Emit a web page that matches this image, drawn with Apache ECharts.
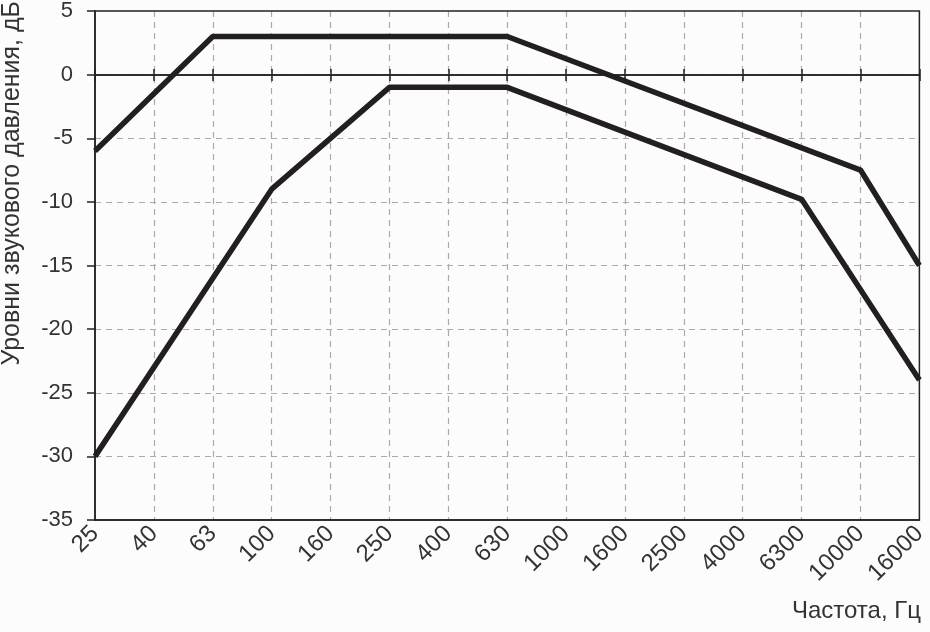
<!DOCTYPE html>
<html><head><meta charset="utf-8">
<script src="https://cdn.jsdelivr.net/npm/echarts@6/dist/echarts.min.js"></script>
<style>html,body{margin:0;padding:0;background:#fcfcfc}#c{width:930px;height:632px}</style>
</head><body><div id="c"></div>
<script>
const categories = ['25','40','63','100','160','250','400','630','1000','1600','2500','4000','6300','10000','16000'];
const upperX = ['25','63','630','10000','16000'];
const upperY = [-6, 3, 3, -7.5, -15];
const lowerX = ['25','100','250','630','6300','16000'];
const lowerY = [-30, -9, -1, -1, -9.8, -24];
const yMin = -35, yMax = 5, yStep = 5;
const yName = 'Уровни звукового давления, дБ';
const xName = 'Частота, Гц';

const font = 'Liberation Sans, Arial, sans-serif';
const chart = echarts.init(document.getElementById('c'));
const zip = (xs, ys) => xs.map((x, i) => [x, ys[i]]);
const zeroAxis = (tickInside) => ({
  type: 'category', data: categories, boundaryGap: false, position: 'top', offset: -64,
  axisLine: { show: true, onZero: false, lineStyle: { color: '#222', width: 1.5 } },
  axisTick: { show: true, inside: tickInside, length: 6, interval: 0, lineStyle: { color: '#222', width: 1.5 } },
  axisLabel: { show: false }, splitLine: { show: false }
});
chart.setOption({
  backgroundColor: '#fcfcfc',
  animation: false,
  grid: { left: 95, right: 9, top: 8, bottom: 112, show: true, borderColor: '#222', borderWidth: 1.5, backgroundColor: 'transparent', z: 5 },
  xAxis: [{
    type: 'category', data: categories, boundaryGap: false, position: 'bottom',
    axisLine: { onZero: false, lineStyle: { color: '#222', width: 1.5 } },
    axisTick: { show: false },
    axisLabel: { rotate: 45, color: '#333', fontSize: 24, fontFamily: font, margin: 10, interval: 0 },
    splitLine: { show: true, showMinLine: false, showMaxLine: false, interval: 0, lineStyle: { color: '#aaa', type: [6, 5], width: 1.2 } }
  }, zeroAxis(true), zeroAxis(false)],
  yAxis: {
    type: 'value', min: yMin, max: yMax, interval: yStep,
    axisLine: { show: true, onZero: false, lineStyle: { color: '#222', width: 1.5 } },
    axisTick: { show: true, length: 8, lineStyle: { color: '#222', width: 1.5 } },
    axisLabel: { color: '#333', fontSize: 22, fontFamily: font, margin: 22 },
    splitLine: { show: true, showMinLine: false, showMaxLine: false, lineStyle: { color: '#aaa', type: [6, 5], width: 1.2 } }
  },
  graphic: [
    { type: 'text', left: 0, top: 1, rotation: Math.PI / 2, originX: 0, originY: 0,
      style: { text: yName, fill: '#333', font: '25px ' + font } },
    { type: 'text', right: 9, top: 599, style: { text: xName, fill: '#333', font: '24px ' + font } }
  ],
  series: [
    { type: 'line', data: zip(upperX, upperY), symbol: 'none', lineStyle: { color: '#231f20', width: 5.5 } },
    { type: 'line', data: zip(lowerX, lowerY), symbol: 'none', lineStyle: { color: '#231f20', width: 5.5 } }
  ]
});
</script></body></html>
